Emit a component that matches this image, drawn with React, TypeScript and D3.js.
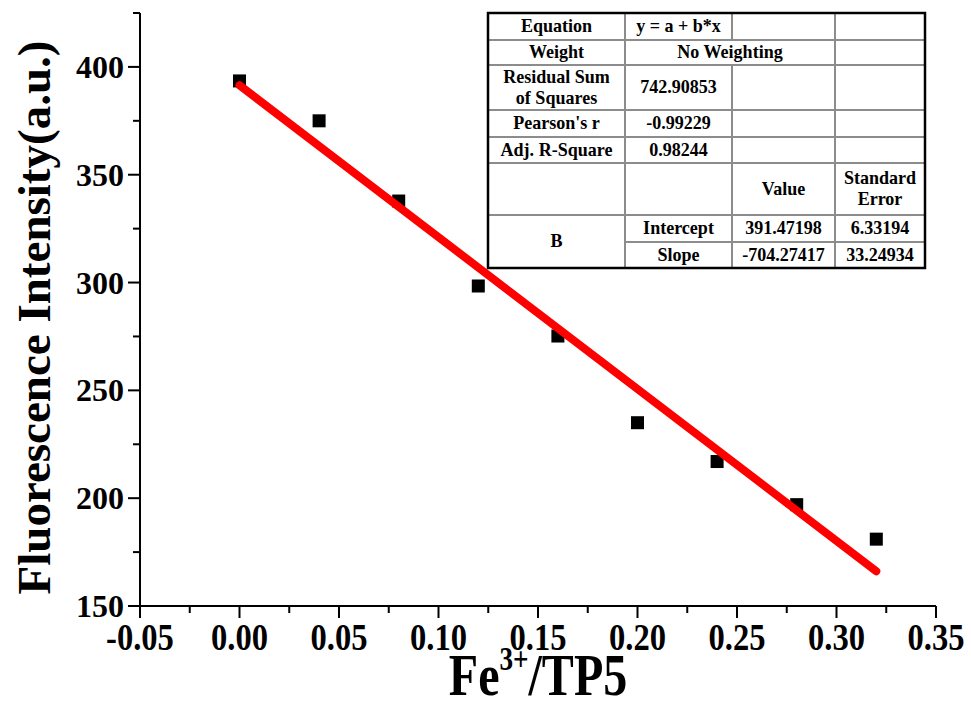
import React from "react";
import * as d3 from "d3";

// Fe3+/TP5 ratio and measured fluorescence intensity
const ratios = [0, 0.04, 0.08, 0.12, 0.16, 0.2, 0.24, 0.28, 0.32];
const intensities = [393.5, 375, 337.8, 298.4, 275.2, 235, 217, 197, 181];

// Linear fit parameters
const intercept = 391.47198;
const slope = -704.27417;

const xTicks = [-0.05, 0, 0.05, 0.1, 0.15, 0.2, 0.25, 0.3, 0.35];
const yTicks = [150, 200, 250, 300, 350, 400];

// Fit summary table text
const tableCells = [
  { r: 0, c: 0, rs: 1, cs: 1, t: ["Equation"] },
  { r: 0, c: 1, rs: 1, cs: 1, t: ["y = a + b*x"] },
  { r: 1, c: 0, rs: 1, cs: 1, t: ["Weight"] },
  { r: 1, c: 1, rs: 1, cs: 2, t: ["No Weighting"] },
  { r: 2, c: 0, rs: 1, cs: 1, t: ["Residual Sum", "of Squares"] },
  { r: 2, c: 1, rs: 1, cs: 1, t: ["742.90853"] },
  { r: 3, c: 0, rs: 1, cs: 1, t: ["Pearson's r"] },
  { r: 3, c: 1, rs: 1, cs: 1, t: ["-0.99229"] },
  { r: 4, c: 0, rs: 1, cs: 1, t: ["Adj. R-Square"] },
  { r: 4, c: 1, rs: 1, cs: 1, t: ["0.98244"] },
  { r: 5, c: 2, rs: 1, cs: 1, t: ["Value"] },
  { r: 5, c: 3, rs: 1, cs: 1, t: ["Standard", "Error"] },
  { r: 6, c: 0, rs: 2, cs: 1, t: ["B"] },
  { r: 6, c: 1, rs: 1, cs: 1, t: ["Intercept"] },
  { r: 6, c: 2, rs: 1, cs: 1, t: ["391.47198"] },
  { r: 6, c: 3, rs: 1, cs: 1, t: ["6.33194"] },
  { r: 7, c: 1, rs: 1, cs: 1, t: ["Slope"] },
  { r: 7, c: 2, rs: 1, cs: 1, t: ["-704.27417"] },
  { r: 7, c: 3, rs: 1, cs: 1, t: ["33.24934"] },
];

const W = 971;
const H = 707;
const FONT = "'Liberation Serif', 'Times New Roman', serif";

const colEdges = [488, 625, 732, 835, 925];
const rowEdges = [13, 40, 65, 110, 137, 163, 215, 242, 268];

const fmtTick = (v: number) => d3.format(".2f")(v).replace("\u2212", "-");

export default function App() {
  const x = d3.scaleLinear().domain([-0.05, 0.35]).range([140, 936]);
  const y = d3.scaleLinear().domain([150, 425]).range([606, 13]);

  const minorX = d3.range(-0.025, 0.35, 0.05);
  const minorY = d3.range(175, 426, 50);

  const fitX = [ratios[0], ratios[ratios.length - 1]];
  const fitLine = d3
    .line<number>()
    .x((d) => x(d))
    .y((d) => y(intercept + slope * d));

  // grid segments of the summary table, skipping merged cells
  const covered = (r: number, c: number) =>
    tableCells.find((k) => r >= k.r && r < k.r + k.rs && c >= k.c && c < k.c + k.cs);
  const segs: { x1: number; y1: number; x2: number; y2: number }[] = [];
  const nR = rowEdges.length - 1;
  const nC = colEdges.length - 1;
  for (let r = 0; r < nR; r++) {
    for (let c = 1; c < nC; c++) {
      const a = covered(r, c - 1);
      const b = covered(r, c);
      if (a && b && a === b) continue;
      segs.push({ x1: colEdges[c], y1: rowEdges[r], x2: colEdges[c], y2: rowEdges[r + 1] });
    }
  }
  for (let r = 1; r < nR; r++) {
    for (let c = 0; c < nC; c++) {
      const a = covered(r - 1, c);
      const b = covered(r, c);
      if (a && b && a === b) continue;
      segs.push({ x1: colEdges[c], y1: rowEdges[r], x2: colEdges[c + 1], y2: rowEdges[r] });
    }
  }

  return (
    <svg
      width={W}
      height={H}
      style={{ position: "absolute", left: 0, top: 0, background: "#fff" }}
      fontFamily={FONT}
      fontWeight="bold"
    >
      {/* axes */}
      <line x1={140} y1={606} x2={936} y2={606} stroke="#000" strokeWidth={2} />
      <line x1={140} y1={13} x2={140} y2={606} stroke="#000" strokeWidth={2} />
      {xTicks.map((t) => (
        <g key={"xt" + t}>
          <line x1={x(t)} x2={x(t)} y1={606} y2={618} stroke="#000" strokeWidth={2} />
          <text
            transform={`translate(${x(t)}, 650) scale(0.88, 1)`}
            textAnchor="middle"
            fontSize={37}
          >
            {fmtTick(t)}
          </text>
        </g>
      ))}
      {minorX.map((t) => (
        <line key={"xm" + t} x1={x(t)} x2={x(t)} y1={606} y2={613} stroke="#000" strokeWidth={2} />
      ))}
      {yTicks.map((t) => (
        <g key={"yt" + t}>
          <line x1={128} x2={140} y1={y(t)} y2={y(t)} stroke="#000" strokeWidth={2} />
          <text x={124} y={y(t) + 11} textAnchor="end" fontSize={32}>
            {t}
          </text>
        </g>
      ))}
      {minorY.map((t) => (
        <line key={"ym" + t} x1={133} x2={140} y1={y(t)} y2={y(t)} stroke="#000" strokeWidth={2} />
      ))}

      {/* axis titles */}
      <text
        transform={`translate(50, ${(13 + 606) / 2 + 8}) rotate(-90)`}
        textAnchor="middle"
        fontSize={47}
      >
        Fluorescence Intensity(a.u.)
      </text>
      <text transform="translate(538, 695) scale(0.8, 1)" textAnchor="middle" fontSize={60}>
        Fe<tspan dy={-25} fontSize={34}>3+</tspan>
        <tspan dy={25}>/TP5</tspan>
      </text>

      {/* points */}
      {ratios.map((r, i) => (
        <rect key={"p" + i} x={x(r) - 6.5} y={y(intensities[i]) - 6.5} width={13} height={13} fill="#000" />
      ))}

      {/* linear fit */}
      <path d={fitLine(fitX) || ""} stroke="#ff0000" strokeWidth={8} strokeLinecap="round" fill="none" />

      {/* fit summary table */}
      <rect
        x={colEdges[0]}
        y={rowEdges[0]}
        width={colEdges[nC] - colEdges[0]}
        height={rowEdges[nR] - rowEdges[0]}
        fill="#fff"
      />
      {segs.map((s, i) => (
        <line key={"g" + i} {...s} stroke="#8c8c8c" strokeWidth={2} />
      ))}
      <rect
        x={colEdges[0]}
        y={rowEdges[0]}
        width={colEdges[nC] - colEdges[0]}
        height={rowEdges[nR] - rowEdges[0]}
        fill="none"
        stroke="#000"
        strokeWidth={2.5}
      />
      {tableCells.map((k, i) => {
        const cx = (colEdges[k.c] + colEdges[k.c + k.cs]) / 2;
        const cy = (rowEdges[k.r] + rowEdges[k.r + k.rs]) / 2;
        const lh = 21;
        const y0 = cy - ((k.t.length - 1) * lh) / 2 + 6;
        return (
          <text
            key={"c" + i}
            transform={`translate(${cx}, 0) scale(0.95, 1)`}
            textAnchor="middle"
            fontSize={19}
          >
            {k.t.map((s, j) => (
              <tspan key={j} x={0} y={y0 + j * lh}>
                {s}
              </tspan>
            ))}
          </text>
        );
      })}
    </svg>
  );
}
